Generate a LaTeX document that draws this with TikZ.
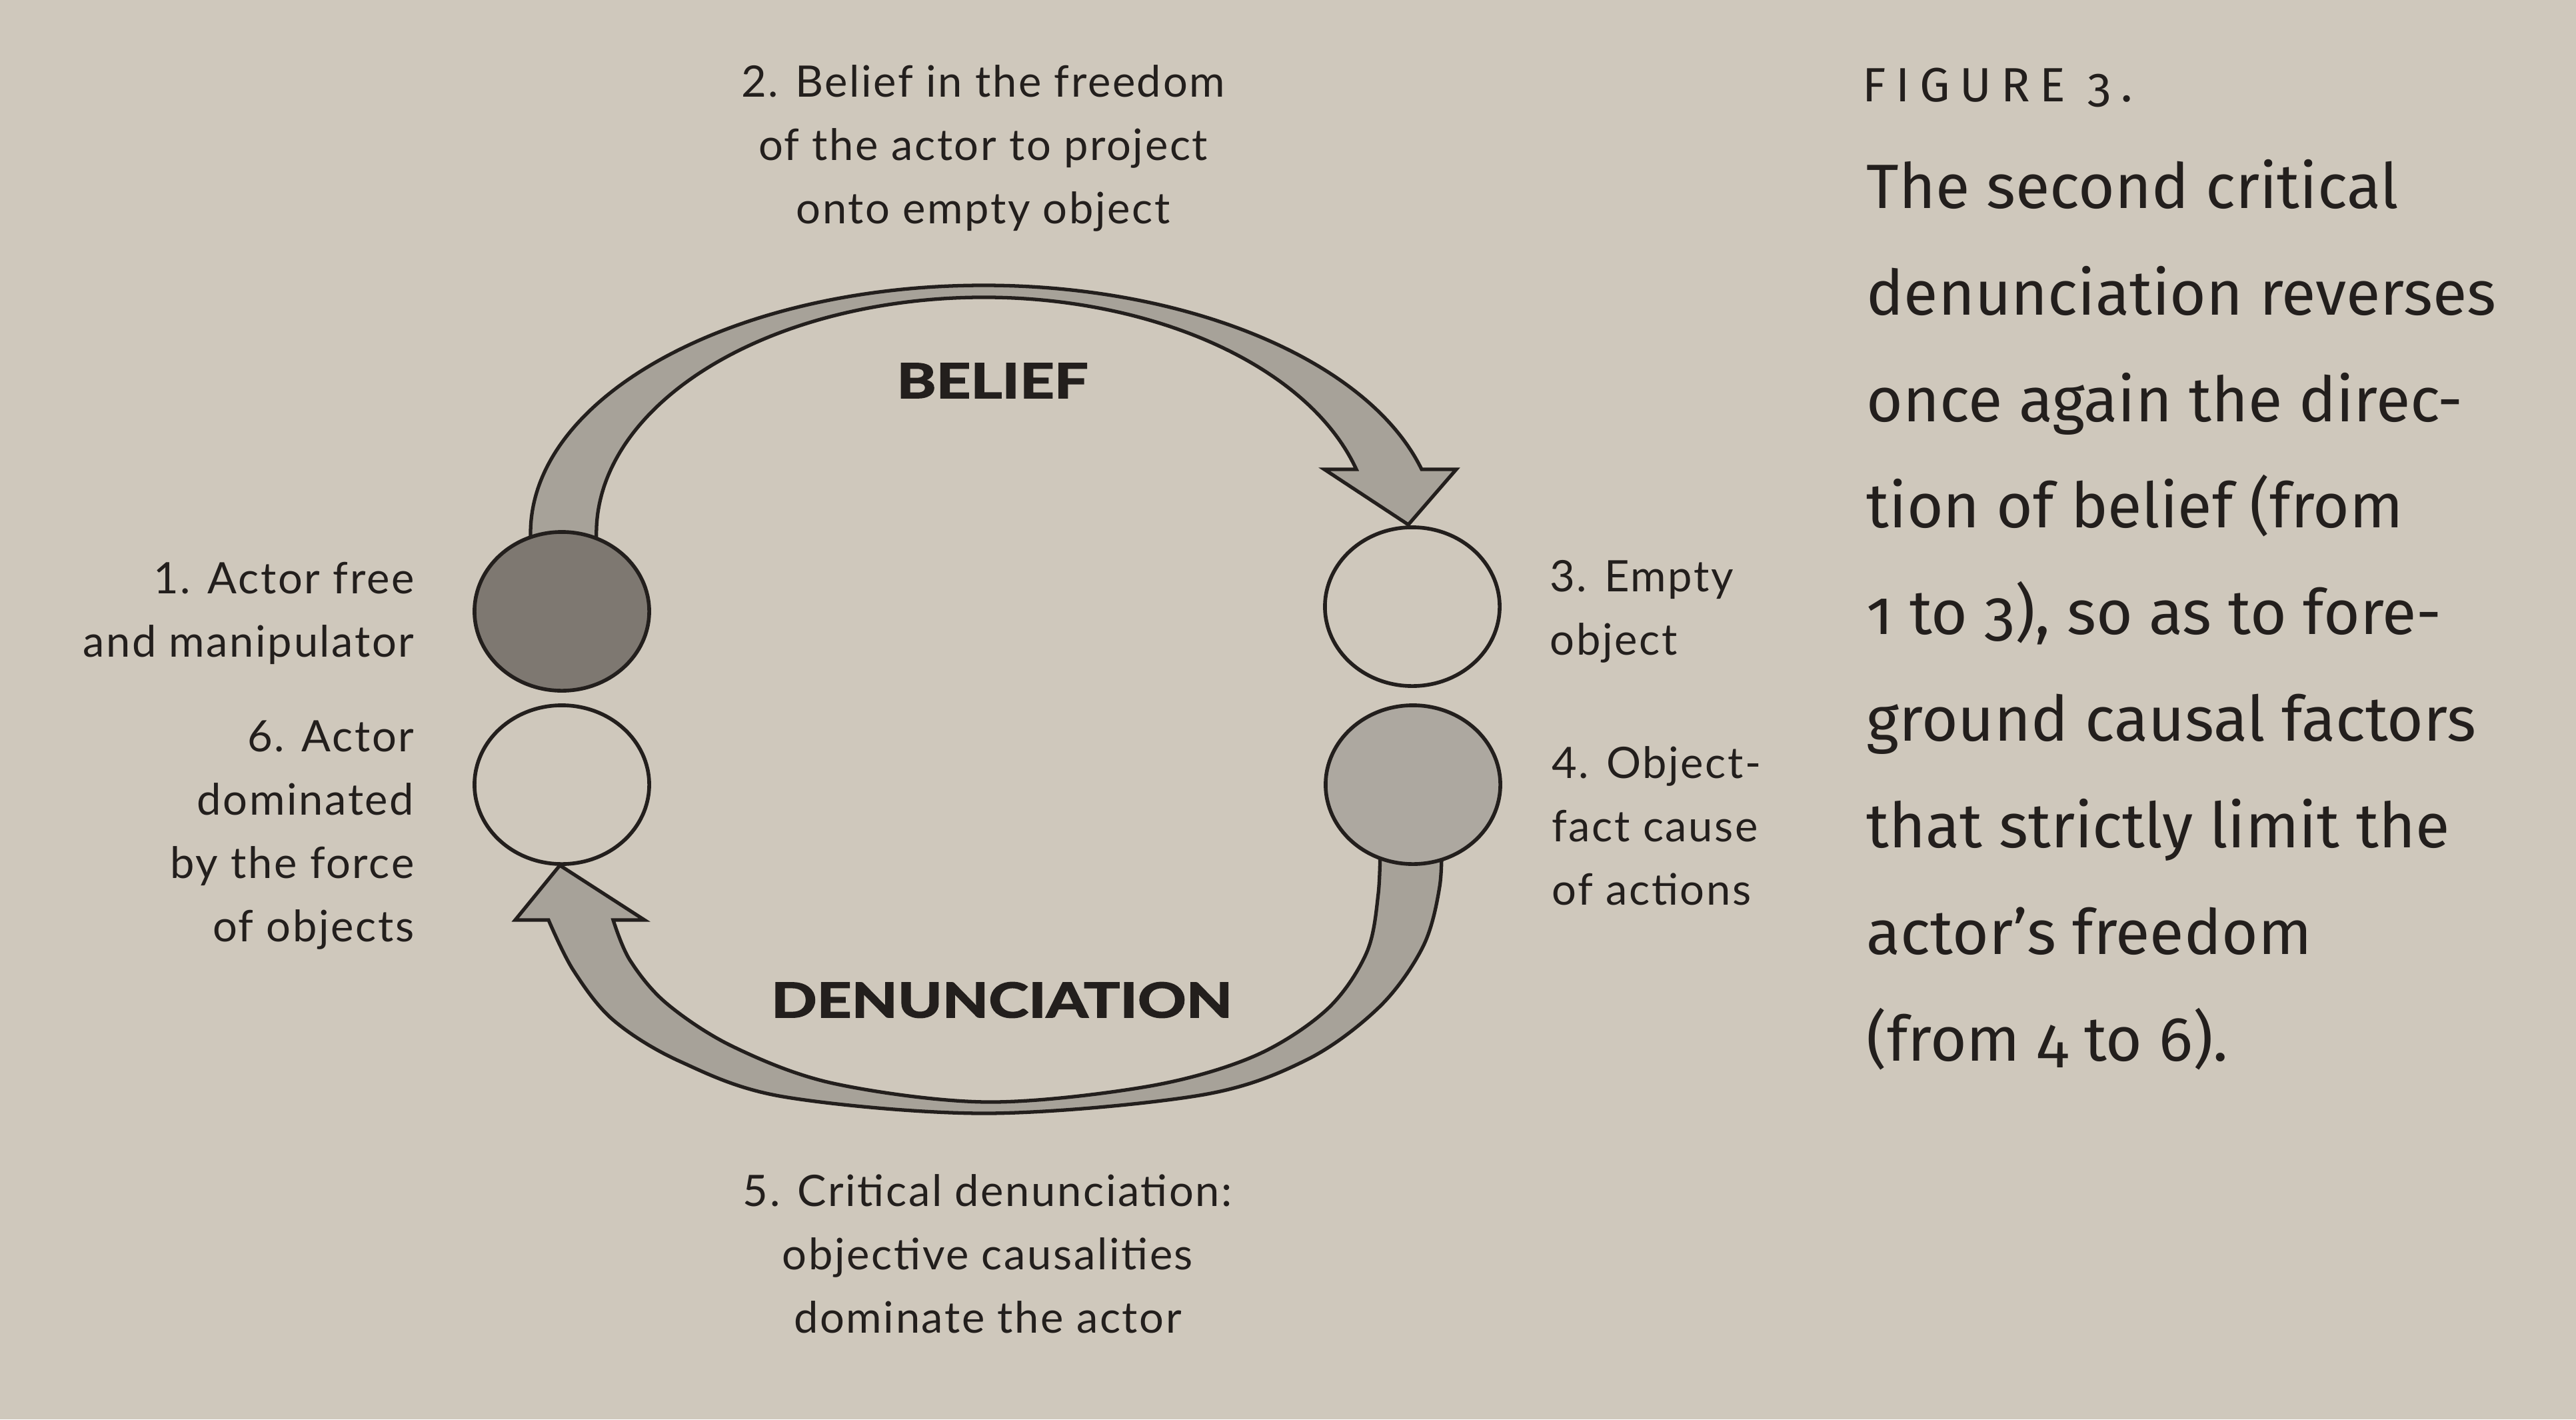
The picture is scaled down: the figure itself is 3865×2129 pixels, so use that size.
\documentclass[tikz,border=0pt]{standalone}
\usepackage{fontspec}
\usetikzlibrary{shapes.geometric}
\setmainfont{Lato}
\newfontfamily\labelfont[LetterSpace=4]{Lato}
\newfontfamily\heavyfont[BoldFeatures={FakeBold=2.2}]{Lato}
\newfontfamily\capfont[Numbers=OldStyle]{Fira Sans}

\definecolor{paper}{HTML}{CFC8BC}
\definecolor{ink}{HTML}{231F1D}
\definecolor{darkscreen}{HTML}{7E7871}
\definecolor{midscreen}{HTML}{A7A299}
\definecolor{lightscreen}{HTML}{ADA8A0}

\begin{document}
\begin{tikzpicture}[x=0.01cm, y=-0.01cm,
  lbl/.style={font={\labelfont\fontsize{18.5pt}{27pt}\selectfont}, text=ink, inner sep=0pt},
  keyword/.style={font={\heavyfont\bfseries\fontsize{20.5pt}{24pt}\selectfont}, text=ink, inner sep=0pt},
  capstyle/.style={font={\capfont\fontsize{20.5pt}{24pt}\selectfont}, text=ink, inner sep=0pt},
  captext/.style={font={\capfont\fontsize{26.7pt}{45.45pt}\selectfont}, text=ink, inner sep=0pt},
  ribbon/.style={fill=midscreen, draw=ink, line width=1.5pt, line join=miter},
  blob/.style={ellipse, draw=ink, line width=1.6pt, minimum width=2.62cm, minimum height=2.38cm, inner sep=0pt}]

% page
\fill[paper] (0,0) rectangle (3865,2129);
\useasboundingbox (0,0) rectangle (3865,2129);

% upper arrow: belief, from 1 over the top to 3 (two elliptic edges)
\draw[ribbon]
  (796,850) -- (796,800)
  arc[start angle=180, end angle=345.04, x radius=680, y radius=372]
  -- (2185,704) -- (2113,787) -- (1987,704) -- (2035,704)
  arc[start angle=344.26, end angle=180, x radius=581, y radius=354]
  -- (895,850) -- cycle;

% lower arrow: denunciation, from 4 under the bottom to 6
\draw[ribbon]
  plot[smooth, tension=0.55] coordinates {(2163,1250) (2160,1330) (2135,1420) (2070,1510)
     (1960,1590) (1800,1643) (1480,1670) (1175,1645) (1020,1592) (920,1530) (860,1455) (823,1380)}
  -- (773,1380) -- (840,1298) -- (967,1380) -- (920,1380)
  -- plot[smooth, tension=0.55] coordinates {(920,1380) (945,1440) (1000,1505) (1100,1570)
     (1250,1625) (1480,1653) (1720,1630) (1880,1585) (1990,1515) (2050,1430) (2068,1340) (2071,1250)}
  -- cycle;

% the four positions
\node[blob, fill=darkscreen] (e1) at (843,917) {};
\node[blob, fill=paper] (e6) at (843,1177) {};
\node[blob, fill=paper] (e3) at (2119,910) {};
\node[blob, fill=lightscreen] (e4) at (2120,1177) {};

% words inside the loop
\node[keyword] (belief) at (1489,571) {\scalebox{1.25}[1]{BELIEF}};
\node[keyword] (denun) at (1503,1500) {\scalebox{1.25}[1]{DENUNCIATION}};

% numbered labels (anchored at the baseline of their last line)
\node[lbl, align=center, anchor=base] (l2) at (1475,335)
  {2. Belief in the freedom\\of the actor to project\\onto empty object};
\node[lbl, align=right, anchor=base east] (l1) at (622,985)
  {\fontsize{18.5pt}{26.5pt}\selectfont 1. Actor free\\and manipulator};
\node[lbl, align=right, anchor=base east] (l6) at (622,1412)
  {\fontsize{18.5pt}{26pt}\selectfont 6. Actor\\dominated\\by the force\\of objects};
\node[lbl, align=left, anchor=base west] (l3) at (2325,982)
  {3. Empty\\object};
\node[lbl, align=left, anchor=base west] (l4) at (2328,1357)
  {\fontsize{18.5pt}{28pt}\selectfont 4. Object-\\fact cause\\of actions};
\node[lbl, align=center, anchor=base] (l5) at (1482,1999)
  {5. Critical denunciation:\\objective causalities\\dominate the actor};

% caption
\node[capstyle, anchor=base west] (fig) at (2794,152)
  {\addfontfeatures{LetterSpace=20}FIGURE 3.};
\node[captext, align=left, anchor=base west] (cap) at (2800,1591)
  {The second critical\\denunciation reverses\\once again the direc-\\tion of belief (from\\1 to 3), so as to fore-\\ground causal factors\\that strictly limit the\\actor’s freedom\\(from 4 to 6).};
\end{tikzpicture}
\end{document}
